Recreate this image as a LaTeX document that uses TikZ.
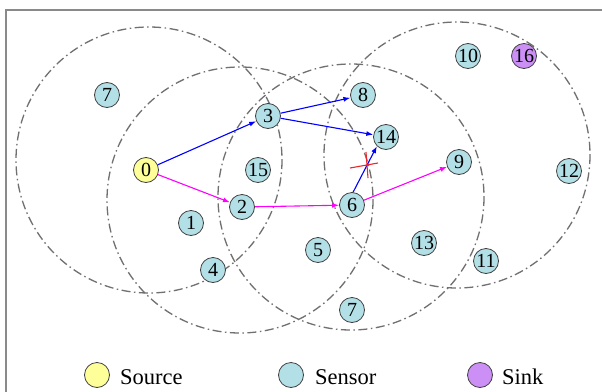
\documentclass[tikz,border=0pt]{standalone}
\usepackage{fontspec}
\setmainfont{Liberation Serif}
\usetikzlibrary{arrows.meta}
\definecolor{sensorc}{HTML}{B3DFE6}
\definecolor{sourcec}{HTML}{FFFF99}
\definecolor{sinkc}{HTML}{CC8FF5}
\definecolor{rangec}{HTML}{707070}
\definecolor{framec}{HTML}{8A8A8A}
\definecolor{pathmag}{RGB}{255,0,255}
\definecolor{pathblue}{RGB}{0,0,255}
\definecolor{crossred}{RGB}{235,40,40}
\tikzset{
  nd/.style={circle, draw=black!75, line width=0.8pt, minimum size=25pt, inner sep=0pt, font=\fontsize{20}{20}\selectfont},
  sensor/.style={nd, fill=sensorc},
  source/.style={nd, fill=sourcec},
  sink/.style={nd, fill=sinkc},
  rangecirc/.style={draw=rangec, line width=1.3pt, dash pattern=on 9pt off 3.5pt on 1.5pt off 3.5pt},
  blueedge/.style={draw=pathblue, line width=1.1pt, -{Latex[length=7pt,width=5pt]}},
  magedge/.style={draw=pathmag, line width=1.1pt, -{Latex[length=7pt,width=5pt]}},
  crossline/.style={draw=crossred, line width=1.1pt},
  legtext/.style={anchor=west, font=\fontsize{22.5}{22.5}\selectfont, inner sep=0pt}
}
\begin{document}
\begin{tikzpicture}[x=1pt,y=-1pt]
\useasboundingbox (0,0) rectangle (602,391);
\fill[white] (0,0) rectangle (602,391);
\draw[framec, line width=1.5pt] (6,420) -- (6,10) -- (640,10);
% ranges
\draw[rangecirc] (149,160) circle (133);
\draw[rangecirc] (240,200) circle (133);
\draw[rangecirc] (351,197) circle (133);
\draw[rangecirc] (457,155) circle (133);
% nodes
\node[source] (n0) at (146,170) {0};
\node[sensor] (n7a) at (107,95) {7};
\node[sensor] (n3) at (268,116) {3};
\node[sensor] (n15) at (258,170) {15};
\node[sensor] (n2) at (242,207) {2};
\node[sensor] (n1) at (191,223) {1};
\node[sensor] (n4) at (213,270) {4};
\node[sensor] (n8) at (363,95) {8};
\node[sensor] (n14) at (386,137) {14};
\node[sensor] (n9) at (459,162) {9};
\node[sensor] (n6) at (352,205) {6};
\node[sensor] (n5) at (318,250) {5};
\node[sensor] (n13) at (424,243) {13};
\node[sensor] (n11) at (486,261) {11};
\node[sensor] (n7b) at (352,310) {7};
\node[sensor] (n10) at (468,56) {10};
\node[sink] (n16) at (524,56) {16};
\node[sensor] (n12) at (569,171) {12};
% edges
\draw[blueedge] (n0) -- (n3);
\draw[blueedge] (n3) -- (n8);
\draw[blueedge] (n3) -- (n14);
\draw[blueedge] (n6.85) -- (n14.225);
\draw[magedge] (n0) -- (n2);
\draw[magedge] (n2) -- (n6);
\draw[magedge] (n6) -- (n9);
% red cross
\coordinate (cA) at (350,168);
\coordinate (cB) at (378,163);
\coordinate (cC) at (366,152);
\coordinate (cD) at (368,178);
\draw[crossline] (cA) -- (cB);
\draw[crossline] (cC) -- (cD);
% legend
\node[source] (l1) at (97,375) {};
\node[legtext] (t1) at (120,377) {Source};
\node[sensor] (l2) at (291,375) {};
\node[legtext] (t2) at (315,377) {Sensor};
\node[sink] (l3) at (480,375) {};
\node[legtext] (t3) at (502,377) {Sink};
\end{tikzpicture}
\end{document}
